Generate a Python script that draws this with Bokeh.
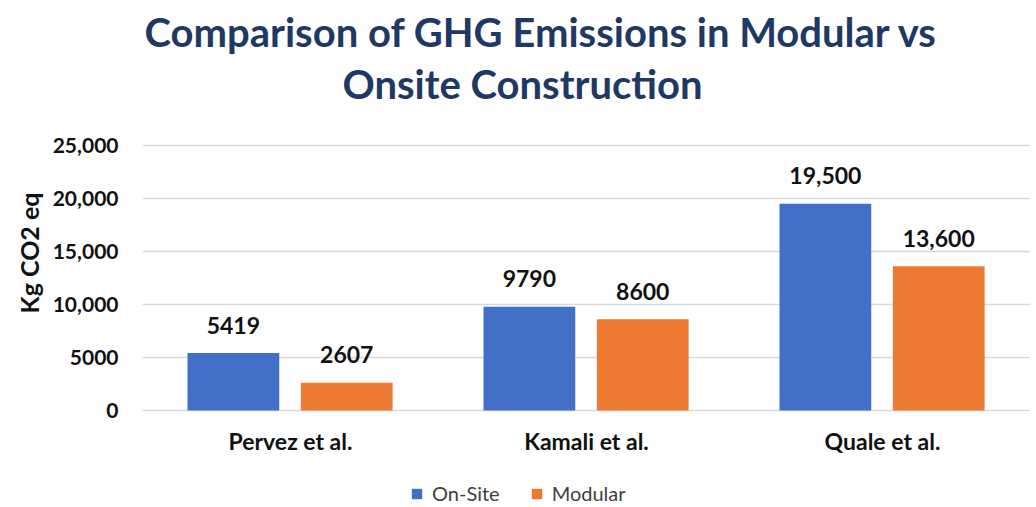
from bokeh.plotting import figure
from bokeh.models import (ColumnDataSource, FactorRange, Range1d, FixedTicker, Label,
                          Legend, LegendItem, LabelSet)
from bokeh.core.properties import value
from bokeh.transform import dodge
from bokeh.embed import file_html
from bokeh.resources import INLINE

studies = ["Pervez et al.", "Kamali et al.", "Quale et al."]
onsite = [5419, 9790, 19500]
modular = [2607, 8600, 13600]
onsite_labels = ["5419", "9790", "19,500"]
modular_labels = ["2607", "8600", "13,600"]
y_ticks = [0, 5000, 10000, 15000, 20000, 25000]
y_tick_labels = ["0", "5000", "10,000", "15,000", "20,000", "25,000"]
title_lines = ["Comparison of GHG Emissions in Modular vs", "Onsite Construction"]

FONT = "Lato"
BLUE = "#4270C8"
ORANGE = "#EC7A30"
NAVY = "#203864"
INK = "#111111"

# layout: the frame spans the whole figure height; the value axis occupies
# the band between TOP_PX and ZERO_PX (pixels from the figure top)
FIG_H = 505
TOP_PX = 145
ZERO_PX = 410
units_per_px = 25000 / (ZERO_PX - TOP_PX)
y_start = -(FIG_H - ZERO_PX) * units_per_px
y_end = 25000 + TOP_PX * units_per_px

src = ColumnDataSource(dict(study=studies, onsite=onsite, modular=modular,
                            onsite_lab=onsite_labels, modular_lab=modular_labels))

p = figure(frame_width=888, frame_height=FIG_H, x_range=FactorRange(*studies, range_padding=0),
           y_range=Range1d(y_start, y_end), output_backend="svg", toolbar_location=None,
           min_border_left=142, min_border_right=0, min_border_top=0, min_border_bottom=0)
p.title = None
p.outline_line_color = None
p.background_fill_color = "white"

r1 = p.vbar(x=dodge("study", -0.193, range=p.x_range), top="onsite", width=0.31,
            source=src, fill_color=BLUE, line_color=None)
r2 = p.vbar(x=dodge("study", 0.19, range=p.x_range), top="modular", width=0.31,
            source=src, fill_color=ORANGE, line_color=None)

for col, lab, off in (("onsite", "onsite_lab", -0.193), ("modular", "modular_lab", 0.19)):
    p.add_layout(LabelSet(x=dodge("study", off, range=p.x_range), y=col, text=lab, source=src,
                          text_align="center", text_baseline="middle", y_offset=28,
                          text_font=value(FONT), text_font_style="bold",
                          text_font_size="23px", text_color=INK))

# category labels under the zero line
p.add_layout(LabelSet(x="study", y=0, text="study", source=src, text_align="center",
                      text_baseline="middle", y_offset=-30, text_font=value(FONT),
                      text_font_style="bold", text_font_size="23px", text_color=INK))

p.yaxis.ticker = FixedTicker(ticks=y_ticks)
p.yaxis.major_label_overrides = {t: l for t, l in zip(y_ticks, y_tick_labels)}
p.yaxis.axis_label = "Kg CO2 eq"
p.yaxis.axis_label_text_font = FONT
p.yaxis.axis_label_text_font_style = "bold"
p.yaxis.axis_label_text_font_size = "25px"
p.yaxis.axis_label_text_color = INK
p.yaxis.axis_label_standoff = 6
p.yaxis.major_label_text_font = FONT
p.yaxis.major_label_text_font_style = "bold"
p.yaxis.major_label_text_font_size = "21px"
p.yaxis.major_label_text_color = INK
p.yaxis.major_label_standoff = 24
p.yaxis.major_tick_out = 0
p.yaxis.major_tick_in = 0
p.yaxis.axis_line_color = None
p.yaxis.major_tick_line_color = None
p.yaxis.minor_tick_line_color = None

p.xaxis.visible = False
p.xgrid.grid_line_color = None
p.ygrid.grid_line_color = "#D9D9D9"
p.ygrid.grid_line_width = 1.5

legend = Legend(items=[LegendItem(label="On-Site", renderers=[r1]),
                       LegendItem(label="Modular", renderers=[r2])],
                orientation="horizontal", location=(268, 0),
                label_text_font=FONT, label_text_font_size="20px", label_text_color="#404040",
                glyph_width=13, glyph_height=13, spacing=30, border_line_color=None,
                background_fill_alpha=0, padding=0, margin=0, label_standoff=9)
p.add_layout(legend, "center")

# title line 1 starts at the frame's left edge, line 2 is centred
p.add_layout(Label(x=2, y=FIG_H - 31, x_units="screen", y_units="screen", text=title_lines[0],
                   text_align="left", text_baseline="middle", text_font=FONT,
                   text_font_style="bold", text_font_size="40px", text_color=NAVY))
p.add_layout(Label(x=380, y=FIG_H - 83, x_units="screen", y_units="screen", text=title_lines[1],
                   text_align="center", text_baseline="middle", text_font=FONT,
                   text_font_style="bold", text_font_size="40px", text_color=NAVY))

open("out.html", "w").write(file_html(p, INLINE))
